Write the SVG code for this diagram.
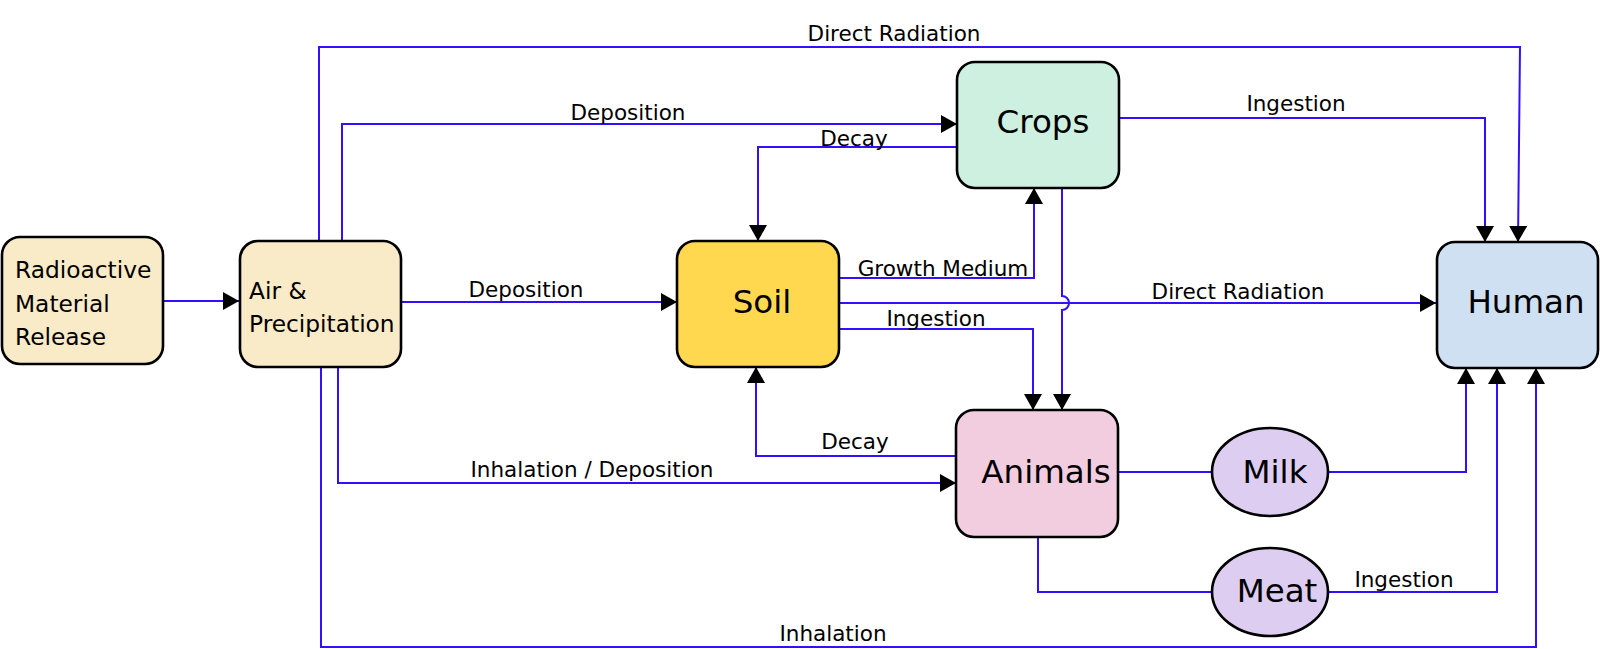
<svg xmlns="http://www.w3.org/2000/svg" width="1600" height="649" viewBox="0 0 1600 649">
<style>
.node{stroke:#000;stroke-width:2.6}
.c{fill:none;stroke:#3010ff;stroke-width:2}
.a{marker-end:url(#arr)}
text{font-family:"DejaVu Sans","Liberation Sans",sans-serif;fill:#000}
.lbl{font-size:21.5px;text-anchor:middle}
.sm{font-size:23.3px}
.big{font-size:32.5px;text-anchor:middle}
</style>
<defs>
<marker id="arr" markerUnits="userSpaceOnUse" markerWidth="16" markerHeight="18" refX="16" refY="9" orient="auto">
<path d="M0,0 L16,9 L0,18 Z" fill="#000"/>
</marker>
</defs>
<rect width="1600" height="649" fill="#fff"/>
<g id="connectors">
<path class="c a" d="M163,301 H239"/>
<path class="c a" d="M401,302 H677"/>
<path class="c a" d="M342,241 V124 H957"/>
<path class="c a" d="M319,241 V47 H1520 L1518,242"/>
<path class="c a" d="M957,147 H758 V241"/>
<path class="c a" d="M839,278 H1034 V188"/>
<path class="c a" d="M839,303 H1436"/>
<path class="c a" d="M839,329 H1033 V410"/>
<path class="c a" d="M1062,188 V296 A7,7 0 0 1 1062,310 V410"/>
<path class="c a" d="M1119,118 H1485 V242"/>
<path class="c a" d="M956,456 H756 V367"/>
<path class="c a" d="M338,367 V483 H956"/>
<path class="c a" d="M321,367 V647 H1536 V368"/>
<path class="c" d="M1118,472 H1211"/>
<path class="c a" d="M1328,472 H1466 V368"/>
<path class="c" d="M1038,537 V592 H1211"/>
<path class="c a" d="M1328,592 H1497 V368"/>
<text class="lbl" x="894" y="41">Direct Radiation</text>
<text class="lbl" x="628" y="120">Deposition</text>
<text class="lbl" x="854" y="146">Decay</text>
<text class="lbl" x="1296" y="111">Ingestion</text>
<text class="lbl" x="526" y="297">Deposition</text>
<text class="lbl" x="943" y="276">Growth Medium</text>
<text class="lbl" x="1238" y="299">Direct Radiation</text>
<text class="lbl" x="936" y="326">Ingestion</text>
<text class="lbl" x="855" y="449">Decay</text>
<text class="lbl" x="592" y="477">Inhalation / Deposition</text>
<text class="lbl" x="1404" y="587">Ingestion</text>
<text class="lbl" x="833" y="641">Inhalation</text>
</g>
<g id="radioactive">
<rect class="node" x="2" y="237" width="161" height="127" rx="18" fill="#faebc8"/>
<text class="sm" x="15" y="278">Radioactive</text>
<text class="sm" x="15" y="312">Material</text>
<text class="sm" x="15" y="345">Release</text>
</g>
<g id="air">
<rect class="node" x="240" y="241" width="161" height="126" rx="18" fill="#faebc8"/>
<text class="sm" x="249" y="299">Air &amp;</text>
<text class="sm" x="249" y="332">Precipitation</text>
</g>
<g id="soil">
<rect class="node" x="677" y="241" width="162" height="126" rx="18" fill="#ffd84f"/>
<text class="big" x="762" y="313">Soil</text>
</g>
<g id="crops">
<rect class="node" x="957" y="62" width="162" height="126" rx="18" fill="#cdf0e0"/>
<text class="big" x="1043" y="133">Crops</text>
</g>
<g id="animals">
<rect class="node" x="956" y="410" width="162" height="127" rx="18" fill="#f2cde0"/>
<text class="big" x="1046" y="483">Animals</text>
</g>
<g id="milk">
<ellipse class="node" cx="1270" cy="472" rx="58" ry="44" fill="#ddcdf0"/>
<text class="big" x="1275" y="483">Milk</text>
</g>
<g id="meat">
<ellipse class="node" cx="1270" cy="592" rx="58" ry="44" fill="#ddcdf0"/>
<text class="big" x="1277" y="602">Meat</text>
</g>
<g id="human">
<rect class="node" x="1437" y="242" width="161" height="126" rx="18" fill="#cfe0f2"/>
<text class="big" x="1526" y="313">Human</text>
</g>
</svg>
